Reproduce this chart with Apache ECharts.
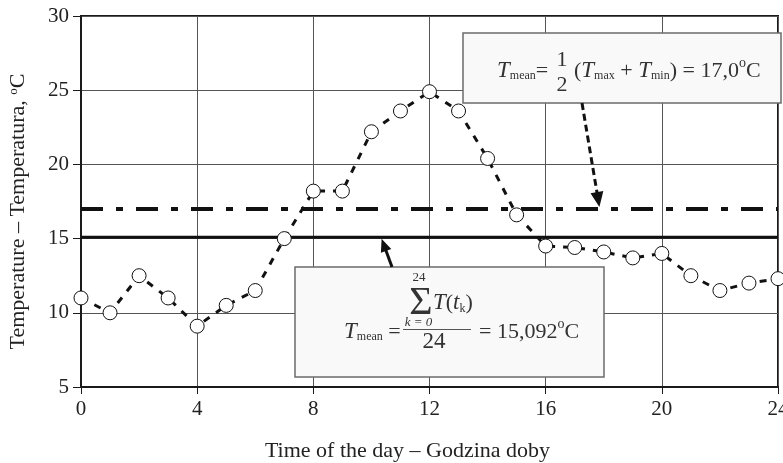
<!DOCTYPE html>
<html>
<head>
<meta charset="utf-8">
<script src="https://cdn.jsdelivr.net/npm/echarts@6/dist/echarts.min.js"></script>
<style>
  html, body { margin: 0; padding: 0; background: #fff; }
  #chart { width: 783px; height: 463px; }
</style>
</head>
<body>
<div id="chart"></div>
<script>
// Hourly air temperature over one day, with two ways of computing the daily mean
const hours = [0, 1, 2, 3, 4, 5, 6, 7, 8, 9, 10, 11, 12, 13, 14, 15, 16, 17, 18, 19, 20, 21, 22, 23, 24];
const temperature = [11.0, 10.0, 12.5, 11.0, 9.1, 10.5, 11.5, 15.0, 18.2, 18.2, 22.2, 23.6, 24.9,
                     23.6, 20.4, 16.6, 14.5, 14.4, 14.1, 13.7, 14.0, 12.5, 11.5, 12.0, 12.3];
const meanArith = 15.092;   // sum of hourly readings / 24
const meanMinMax = 17.0;    // (Tmax + Tmin) / 2
const xRange = [0, 24];
const yRange = [5, 30];

const SERIF = '"Liberation Serif", "Times New Roman", serif';
const fmt = (v, d) => v.toFixed(d).replace('.', ',');

const chart = echarts.init(document.getElementById('chart'), null, { renderer: 'canvas' });

chart.setOption({
  animation: false,
  backgroundColor: '#ffffff',
  textStyle: { fontFamily: SERIF },
  grid: {
    left: 81, right: 5, top: 16, bottom: 76,
    outerBoundsMode: 'none', containLabel: false,
    show: true, borderColor: '#1a1a1a', borderWidth: 2, backgroundColor: 'transparent'
  },
  xAxis: {
    type: 'value', min: xRange[0], max: xRange[1], interval: 4,
    name: 'Time of the day – Godzina doby',
    nameLocation: 'middle', nameGap: 53,
    nameTextStyle: { fontFamily: SERIF, fontSize: 22, color: '#222', padding: [0, 44, 0, 0] },
    axisLine: { show: true, lineStyle: { color: '#1a1a1a', width: 2 } },
    axisTick: { show: true, inside: false, length: 7, lineStyle: { color: '#1a1a1a', width: 1 } },
    axisLabel: { fontFamily: SERIF, fontSize: 21, color: '#222', margin: 12 },
    splitLine: { show: true, lineStyle: { color: '#555', width: 1 } }
  },
  yAxis: {
    type: 'value', min: yRange[0], max: yRange[1], interval: 5,
    name: 'Temperature – Temperatura, {sup|o}C',
    nameLocation: 'middle', nameGap: 52, nameRotate: 90,
    nameTextStyle: {
      fontFamily: SERIF, fontSize: 22, color: '#222', padding: [0, 20, 0, 0],
      rich: { sup: { fontFamily: SERIF, fontSize: 13, verticalAlign: 'top', lineHeight: 13, color: '#222' } }
    },
    axisLine: { show: true, lineStyle: { color: '#1a1a1a', width: 2 } },
    axisTick: { show: true, inside: false, length: 8, lineStyle: { color: '#1a1a1a', width: 1 } },
    axisLabel: { fontFamily: SERIF, fontSize: 21, color: '#222', margin: 12 },
    splitLine: { show: true, lineStyle: { color: '#555', width: 1 } }
  },
  series: [
    {
      name: 'meanMinMax', type: 'line', z: 1, symbol: 'none', silent: true,
      data: [[xRange[0], meanMinMax], [xRange[1], meanMinMax]],
      lineStyle: { color: '#111', width: 4, type: [22, 13, 7, 13] }
    },
    {
      name: 'meanArith', type: 'line', z: 1, symbol: 'none', silent: true,
      data: [[xRange[0], meanArith], [xRange[1], meanArith]],
      lineStyle: { color: '#111', width: 3, type: 'solid' }
    },
    {
      name: 'temperature', type: 'line', z: 5,
      data: hours.map((h, i) => [h, temperature[i]]),
      symbol: 'circle', symbolSize: 14, showAllSymbol: true,
      itemStyle: { color: '#fff', borderColor: '#111', borderWidth: 1 },
      lineStyle: { color: '#111', width: 3, type: [7, 8] }
    }
  ]
});

// ---- annotation boxes with formulas and arrows ----
const TXT = '#333';
const rich = {
  it: { fontFamily: SERIF, fontStyle: 'italic', fontSize: 23, lineHeight: 26, verticalAlign: 'bottom', fill: TXT },
  rm: { fontFamily: SERIF, fontSize: 22, lineHeight: 26, verticalAlign: 'bottom', fill: TXT },
  sub: { fontFamily: SERIF, fontSize: 12, lineHeight: 12, verticalAlign: 'bottom', fill: TXT },
  sup: { fontFamily: SERIF, fontSize: 14, lineHeight: 14, verticalAlign: 'top', fill: TXT }
};
function richText(x, y, text) {
  return { type: 'text', z: 101, x: x, y: y,
    style: { text: text, align: 'left', verticalAlign: 'top', rich: rich, fill: TXT, font: '22px ' + SERIF } };
}
function plainText(x, y, text, size, italic) {
  return { type: 'text', z: 101, x: x, y: y,
    style: { text: text, align: 'center', verticalAlign: 'middle', fill: TXT,
      font: (italic ? 'italic ' : '') + size + 'px ' + SERIF } };
}
function arrow(tail, tip, dashed, headLen, headW) {
  const dx = tip[0] - tail[0], dy = tip[1] - tail[1];
  const len = Math.sqrt(dx * dx + dy * dy);
  const ux = dx / len, uy = dy / len;
  const bx = tip[0] - ux * headLen, by = tip[1] - uy * headLen;
  const px = -uy * headW / 2, py = ux * headW / 2;
  return [
    { type: 'line', z: 102, shape: { x1: tail[0], y1: tail[1], x2: bx + ux * 2, y2: by + uy * 2 },
      style: { stroke: '#111', lineWidth: 3, lineDash: dashed ? [7, 4] : null } },
    { type: 'polygon', z: 102, shape: { points: [tip, [bx + px, by + py], [bx - px, by - py]] },
      style: { fill: '#111' } }
  ];
}

const tipMinMax = chart.convertToPixel({ gridIndex: 0 }, [17.85, meanMinMax]);
const tipArith = chart.convertToPixel({ gridIndex: 0 }, [10.35, meanArith]);

const box1 = { x: 463, y: 33, w: 318, h: 70 };
const box2 = { x: 295, y: 267, w: 309, h: 110 };

const g = [
  { type: 'rect', z: 100, shape: { x: box1.x, y: box1.y, width: box1.w, height: box1.h },
    style: { fill: '#f9f9f9', stroke: '#6b6b6b', lineWidth: 1.5 } },
  richText(497, 56, '{it|T}{sub|mean}{rm|=}'),
  plainText(562, 60, '1', 22, false),
  plainText(562, 85, '2', 22, false),
  richText(574, 56, '{rm|(}{it|T}{sub|max}{rm| + }{it|T}{sub|min}{rm|) = ' + fmt(meanMinMax, 1) + '}{sup|o}{rm|C}'),

  { type: 'rect', z: 100, shape: { x: box2.x, y: box2.y, width: box2.w, height: box2.h },
    style: { fill: '#f9f9f9', stroke: '#6b6b6b', lineWidth: 1.5 } },
  richText(344, 317, '{it|T}{sub|mean}{rm| =}'),
  plainText(419, 278, '24', 13, false),
  plainText(421, 303, 'Σ', 40, false),
  plainText(418.5, 323, 'k = 0', 13, true),
  richText(433, 288.5, '{it|T}{rm|(}{it|t}{sub|k}{rm|)}'),
  { type: 'line', z: 101, shape: { x1: 403, y1: 329.5, x2: 471, y2: 329.5 },
    style: { stroke: '#555', lineWidth: 1 } },
  plainText(434, 341.5, '24', 23, false),
  richText(479, 317, '{rm|= ' + fmt(meanArith, 3) + '}{sup|o}{rm|C}')
]
  .concat(arrow([582, box1.y + box1.h], [tipMinMax[0], tipMinMax[1] - 2], true, 15, 13))
  .concat(arrow([392, box2.y], [tipArith[0], tipArith[1] + 1.5], false, 13, 11));

chart.setOption({ graphic: g });
</script>
</body>
</html>
